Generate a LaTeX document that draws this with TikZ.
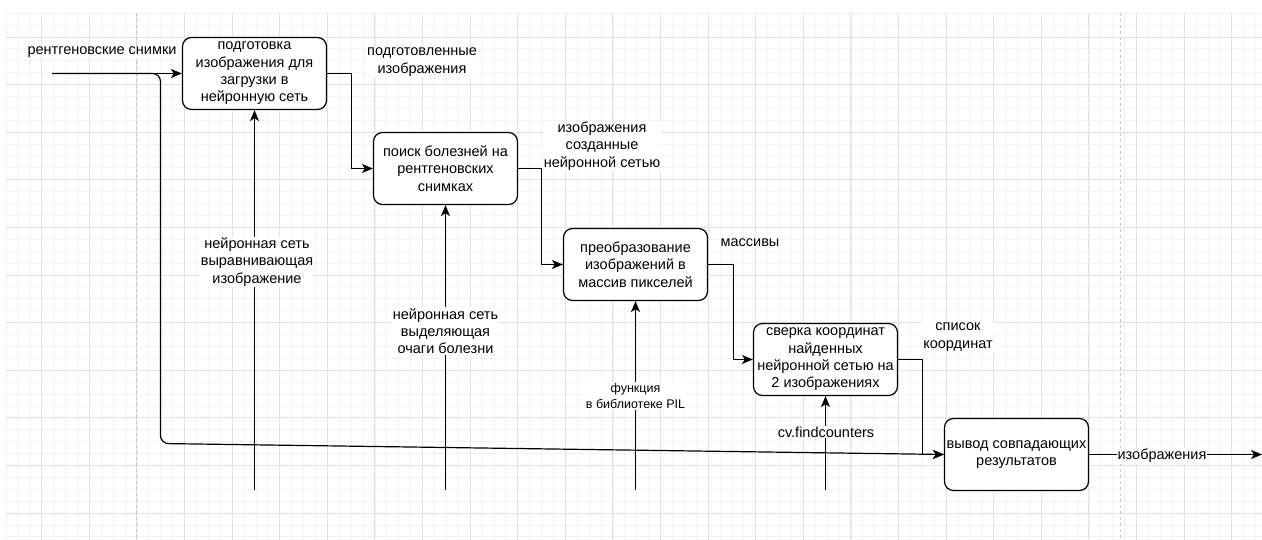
\documentclass[tikz,border=0pt]{standalone}
\usepackage{fontspec}
\setmainfont{Liberation Sans}
\usetikzlibrary{arrows.meta}
\definecolor{gridminor}{HTML}{F2F2F2}
\definecolor{gridmajor}{HTML}{E2E2E2}
\definecolor{pagebreak}{HTML}{C8C8C8}
\begin{document}
\begin{tikzpicture}[x=1pt,y=-1pt,
  box/.style={draw=black, line width=1.2pt, rounded corners=9pt, minimum width=144pt, minimum height=72pt, align=center, font=\fontsize{14.5}{17.3}\selectfont, inner sep=0pt, fill=white},
  lbl/.style={fill=white, align=center, font=\fontsize{14.5}{17.3}\selectfont, inner sep=1pt},
  smalllbl/.style={fill=white, align=center, font=\fontsize{12.5}{16}\selectfont, inner sep=1pt},
  arr/.style={line width=1.2pt, -{Stealth[length=11pt,width=9pt,inset=3pt]}},
  ln/.style={line width=1.2pt},
]
\useasboundingbox[fill=white] (0,0) rectangle (1262,540);
% grid
\foreach \i in {0,...,105} {\draw[gridminor, line width=0.8pt] (6+11.9*\i,13.2) -- (6+11.9*\i,540);}
\foreach \j in {0,...,44} {\draw[gridminor, line width=0.8pt] (6,13.2+11.9*\j) -- (1262,13.2+11.9*\j);}
\foreach \i in {0,...,25} {\draw[gridmajor, line width=0.9pt] (41.7+47.6*\i,13.2) -- (41.7+47.6*\i,540);}
\foreach \j in {0,...,10} {\draw[gridmajor, line width=0.9pt] (6,37+47.6*\j) -- (1262,37+47.6*\j);}
\draw[pagebreak, line width=1pt, dash pattern=on 3pt off 3pt] (136.5,13.2) -- (136.5,540);
\draw[pagebreak, line width=1pt, dash pattern=on 3pt off 3pt] (1120.5,13.2) -- (1120.5,540);

% boxes
\node[box] (b1) at (254.5,73.5) {подготовка\\изображения для\\загрузки в\\нейронную сеть};
\node[box] (b2) at (445.5,168.5) {поиск болезней на\\рентгеновских\\снимках};
\node[box] (b3) at (635.5,264.5) {преобразование\\изображений в\\массив пикселей};
\node[box] (b4) at (825.5,359.5) {сверка координат\\найденных\\нейронной сетью на\\2 изображениях};
\node[box] (b5) at (1016.5,454.5) {вывод совпадающих\\результатов};

% coordinates
\coordinate (in) at (52,73.5);
\coordinate (out) at (1262,454.5);
\coordinate (m1) at (254.5,490);
\coordinate (m2) at (445.5,490);
\coordinate (m3) at (635.5,490);
\coordinate (m4) at (825.5,490);

% connectors
\draw[arr] (in) -- (b1.west);
\draw[arr, rounded corners=8pt] (in) -- (160.5,73.5) -- (160.5,443.5) -- (b5.west);
\draw[arr] (b1.east) -- ++(24,0) |- (b2.west);
\draw[arr] (b2.east) -- ++(23,0) |- (b3.west);
\draw[arr] (b3.east) -- ++(25,0) |- (b4.west);
\draw[arr] (b4.east) -- ++(24,0) |- (b5.west);
\draw[arr] (b5.east) -- (out);
\draw[arr] (m1) -- (b1.south);
\draw[arr] (m2) -- (b2.south);
\draw[arr] (m3) -- (b3.south);
\draw[arr] (m4) -- (b4.south);

% labels
\node[lbl] (l1) at (102,52) {рентгеновские снимки};
\node[lbl] (l2) at (422,62) {подготовленные\\изображения};
\node[lbl] (l3) at (602,146) {изображения\\созданные\\нейронной сетью};
\node[lbl] (l4) at (750,243) {массивы};
\node[lbl] (l5) at (958,337) {список\\координат};
\node[lbl] (l6) at (1162,456) {изображения};
\node[lbl] (l7) at (257,262) {нейронная сеть\\выравнивающая\\изображение};
\node[lbl] (l8) at (445.5,331) {нейронная сеть\\выделяющая\\очаги болезни};
\node[smalllbl] (l9) at (635.5,396) {функция\\в библиотеке PIL};
\node[lbl] (l10) at (826,432) {cv.findcounters};
\end{tikzpicture}
\end{document}
